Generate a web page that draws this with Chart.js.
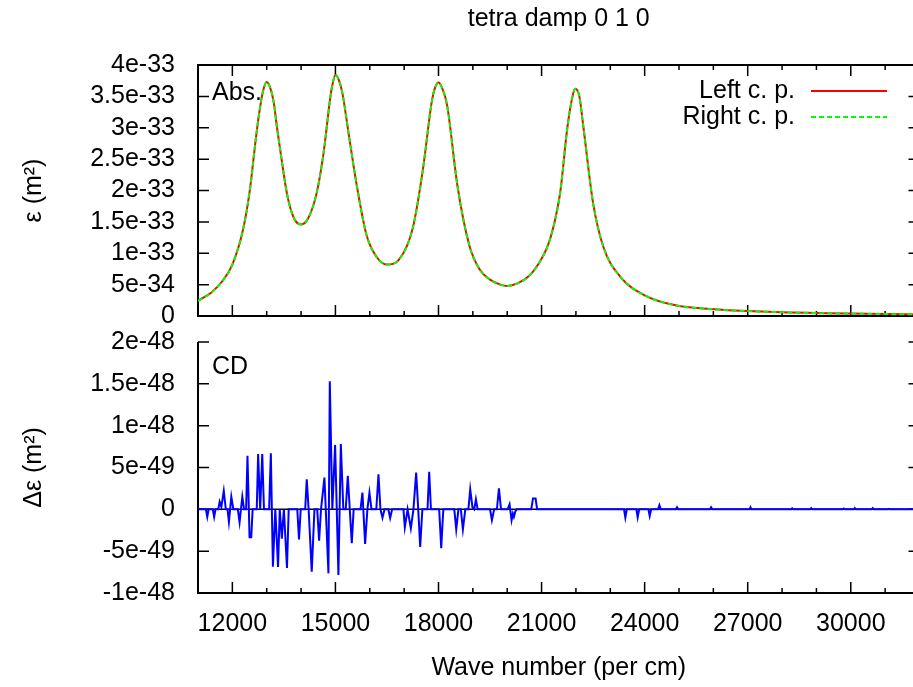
<!DOCTYPE html>
<html>
<head>
<meta charset="utf-8">
<title>tetra damp 0 1 0</title>
<script src="https://cdn.jsdelivr.net/npm/chart.js@4.4.1/dist/chart.umd.min.js"></script>
<style>
  html, body { margin: 0; padding: 0; background: #fff; }
  #page { position: relative; width: 913px; height: 687px; overflow: hidden; background: #fff; }
  #page canvas { position: absolute; left: 0; }
</style>
</head>
<body>
<div id="page">
  <canvas id="absChart" width="925" height="346" style="top:0"></canvas>
  <canvas id="cdChart" width="925" height="375" style="top:312px"></canvas>
</div>
<script>
// x axis: wave number (per cm)
const xMin = 11000, xMax = 32000;
const xTicks = [12000, 15000, 18000, 21000, 24000, 27000, 30000];
const xTickLabels = ['12000', '15000', '18000', '21000', '24000', '27000', '30000'];

// absorption, values in units of 1e-33 m^2
const absWave = [11000, 11400, 11700, 12000, 12300, 12500, 12700, 12800, 12900, 13000, 13100, 13200, 13300,
  13400, 13600, 13800, 14000, 14200, 14450, 14650, 14850, 14900, 15000, 15100, 15200, 15400, 15600,
  15900, 16200, 16500, 16850, 17250, 17550, 17800, 17900, 18000, 18100, 18250, 18550, 18900, 19200,
  19500, 19800, 20000, 20300, 20600, 20900, 21200, 21400, 21550, 21750, 21900, 21980, 22100, 22220, 22500,
  22800, 23300, 24000, 24900, 25900, 27400, 29300, 32000];
const absLeft = [0.24, 0.38, 0.55, 0.82, 1.35, 1.97, 2.9, 3.3, 3.6, 3.73, 3.64, 3.42, 3.0,
  2.62, 1.92, 1.55, 1.46, 1.55, 1.95, 2.58, 3.48, 3.65, 3.84, 3.76, 3.56, 2.85, 2.15,
  1.3, 0.94, 0.82, 0.9, 1.4, 2.35, 3.4, 3.64, 3.72, 3.64, 3.36, 2.08, 1.12, 0.74,
  0.58, 0.5, 0.48, 0.52, 0.62, 0.82, 1.15, 1.55, 2.0, 3.0, 3.5, 3.62, 3.5, 3.0, 1.8,
  1.1, 0.62, 0.33, 0.17, 0.11, 0.07, 0.043, 0.025];
// right c. p. lies on top of left c. p. at this scale
const absRight = [0.24, 0.38, 0.55, 0.82, 1.35, 1.97, 2.9, 3.3, 3.6, 3.73, 3.64, 3.42, 3.0,
  2.62, 1.92, 1.55, 1.46, 1.55, 1.95, 2.58, 3.48, 3.65, 3.84, 3.76, 3.56, 2.85, 2.15,
  1.3, 0.94, 0.82, 0.9, 1.4, 2.35, 3.4, 3.64, 3.72, 3.64, 3.36, 2.08, 1.12, 0.74,
  0.58, 0.5, 0.48, 0.52, 0.62, 0.82, 1.15, 1.55, 2.0, 3.0, 3.5, 3.62, 3.5, 3.0, 1.8,
  1.1, 0.62, 0.33, 0.17, 0.11, 0.07, 0.043, 0.025];
const absTicks = [0, 0.5, 1, 1.5, 2, 2.5, 3, 3.5, 4];
const absTickLabels = ['0', '5e-34', '1e-33', '1.5e-33', '2e-33', '2.5e-33', '3e-33', '3.5e-33', '4e-33'];

// CD, values in units of 1e-49 m^2
const cdWave = [11000, 11230, 11270, 11310, 11430, 11470, 11510, 11590, 11630, 11680, 11750, 11810,
  11860, 11900, 11970, 12030, 12160, 12210, 12250, 12290, 12340, 12400, 12440, 12480, 12500, 12550,
  12590, 12710, 12750, 12810, 12870, 12920, 13070, 13120, 13180, 13250, 13330, 13380, 13440, 13500,
  13590, 13640, 13890, 13940, 13990, 14120, 14165, 14220, 14310, 14390, 14470, 14525, 14580, 14680,
  14797, 14836, 14910, 14991, 15087, 15157, 15230, 15300, 15360, 15476, 15530, 15730, 15786, 15864,
  15930, 15990, 16050, 16190, 16253, 16310, 16370, 16430, 16540, 16593, 16650,
  16980, 17020, 17100, 17195, 17270, 17350, 17410, 17467, 17530, 17680, 17729, 17780, 18020, 18079,
  18140, 18460, 18516, 18580, 18650, 18710, 18780, 18870, 18923, 18990, 19040, 19089, 19140, 19500,
  19555, 19620, 19700, 19759, 19820, 20010, 20068, 20127, 20165, 20195, 20240, 20280, 20700, 20750,
  20826, 20870,
  23400, 23438, 23480, 23760, 23797, 23840, 24110, 24147, 24190, 24390, 24429, 24470, 24910, 24943,
  24980, 25900, 25934, 25970, 27050, 27080, 27110, 28270, 28294, 28320, 28820, 28847, 28880, 29770,
  29797, 29830, 30090, 30117, 30150, 30610, 30641, 30670, 31080, 31108, 31140, 32000];
const cdDelta = [0, 0, -0.9, 0, 0, -0.9, 0, 0, 0.9, 0.3, 2.2, 0,
  0, -1.5, 1.5, 0, 0, -1.55, 0, 1.5, 0, 0, 6.4, 0, -3.35, -3.35,
  0, 0, 6.6, 0, 6.6, 0, 0, 6.7, -6.85, 0, -6.9, 0, -3.5, 0,
  -7.0, 0, 0, -3.6, 0, 0, 3.6, 0, -7.45, 0, 0, -3.75, 0, 3.8,
  -7.65, 15.3, 0, 7.7, -7.85, 7.8, 0, 0, 4.0, -4.05, 0, 0, 2.0, -4.15,
  0, 2.0, 0, 0, 4.2, 0, -1.0, 0, 0, -1.05, 0,
  0, -2.15, 0, -2.27, 0, 4.4, 0, -4.5, 0, 0, 4.5, 0, 0, -4.65,
  0, 0, -2.4, 0, 0, -2.4, 0, 0, 2.4, 0.2, 0, 1.2, 0, 0,
  -1.3, 0, 0, 2.5, 0, 0, 0.6, -1.3, -0.5, -0.9, -0.2, 0, 0, 1.3,
  1.3, 0,
  0, -1.0, 0, 0, -0.95, 0, 0, -0.8, 0, 0, 0.5, 0, 0, 0.25,
  0, 0, 0.25, 0, 0, 0.25, 0, 0, 0.12, 0, 0, 0.15, 0, 0,
  0.1, 0, 0, 0.15, 0, 0, 0.15, 0, 0, 0.06, 0, 0];
const cdTicks = [-10, -5, 0, 5, 10, 15, 20];
const cdTickLabels = ['-1e-48', '-5e-49', '0', '5e-49', '1e-48', '1.5e-48', '2e-48'];

const FONT = "'Liberation Sans', Arial, Helvetica, sans-serif";
Chart.defaults.font.family = FONT;
Chart.defaults.font.size = 25;
Chart.defaults.color = '#000';

function points(xs, ys) {
  return xs.map((x, i) => ({ x: x, y: ys[i] }));
}

// box, inward tick marks and optional zero axis, drawn below the data
const framePlugin = {
  id: 'frame',
  beforeDatasetsDraw(chart, args, opts) {
    const { ctx, chartArea: a, scales: { x, y } } = chart;
    ctx.save();
    ctx.strokeStyle = '#000';
    if (opts.zeroLine) {
      const y0 = y.getPixelForValue(0);
      ctx.lineWidth = 1.5;
      ctx.beginPath();
      ctx.moveTo(a.left, y0);
      ctx.lineTo(a.right, y0);
      ctx.stroke();
    }
    ctx.lineWidth = 2;
    ctx.beginPath();
    if (opts.top) {
      ctx.rect(a.left, a.top, a.right - a.left, a.bottom - a.top);
    } else {
      ctx.moveTo(a.left, a.top);
      ctx.lineTo(a.left, a.bottom);
      ctx.lineTo(a.right, a.bottom);
      ctx.lineTo(a.right, a.top);
    }
    ctx.stroke();
    ctx.lineWidth = 1.5;
    ctx.beginPath();
    for (let v = xMin + 1000; v < xMax; v += 1000) {
      const px = x.getPixelForValue(v);
      const len = xTicks.includes(v) ? 11 : 5;
      ctx.moveTo(px, a.bottom);
      ctx.lineTo(px, a.bottom - len);
      if (opts.top) {
        ctx.moveTo(px, a.top);
        ctx.lineTo(px, a.top + len);
      }
    }
    y.ticks.forEach(t => {
      const py = y.getPixelForValue(t.value);
      ctx.moveTo(a.left, py);
      ctx.lineTo(a.left + 11, py);
      ctx.moveTo(a.right, py);
      ctx.lineTo(a.right - 11, py);
    });
    ctx.stroke();
    ctx.restore();
  }
};

// corner tag and gnuplot style key
const notesPlugin = {
  id: 'notes',
  afterDraw(chart, args, opts) {
    const { ctx, chartArea: a } = chart;
    ctx.save();
    ctx.font = '25px ' + FONT;
    ctx.fillStyle = '#000';
    ctx.textBaseline = 'middle';
    if (opts.tag) {
      ctx.textAlign = 'left';
      ctx.fillText(opts.tag, a.left + 14, a.top + opts.tagY);
    }
    if (opts.key) {
      chart.data.datasets.forEach((ds, i) => {
        const yy = a.top + 26 + i * 26;
        ctx.textAlign = 'right';
        ctx.fillStyle = '#000';
        ctx.fillText(ds.label, 795, yy);
        ctx.strokeStyle = ds.borderColor;
        ctx.lineWidth = 2;
        ctx.setLineDash(ds.borderDash || []);
        ctx.beginPath();
        ctx.moveTo(811, yy);
        ctx.lineTo(887, yy);
        ctx.stroke();
      });
    }
    ctx.restore();
  }
};

new Chart(document.getElementById('absChart'), {
  type: 'line',
  data: {
    datasets: [
      { label: 'Left c. p.', data: points(absWave, absLeft), borderColor: '#ff0000', borderWidth: 2,
        pointRadius: 0, cubicInterpolationMode: 'monotone', order: 1 },
      { label: 'Right c. p.', data: points(absWave, absRight), borderColor: '#00ff00', borderWidth: 2,
        borderDash: [5, 3], pointRadius: 0, cubicInterpolationMode: 'monotone', order: 0 }
    ]
  },
  options: {
    responsive: false,
    animation: false,
    devicePixelRatio: 1,
    layout: { padding: { left: 0, right: 5.5, top: 0, bottom: 0 } },
    plugins: {
      legend: { display: false },
      tooltip: { enabled: false },
      title: { display: true, text: 'tetra damp 0 1 0', fullSize: false, color: '#000',
        font: { size: 25, weight: 'normal' }, padding: { top: 4, bottom: 31 } },
      frame: { top: true },
      notes: { tag: 'Abs.', tagY: 28, key: true }
    },
    scales: {
      x: {
        type: 'linear', min: xMin, max: xMax,
        grid: { display: false }, border: { display: false },
        ticks: { display: false },
        afterBuildTicks: s => { s.ticks = xTicks.map(v => ({ value: v })); },
        afterFit: s => { s.height = 30; }
      },
      y: {
        min: 0, max: 4,
        grid: { display: false }, border: { display: false },
        ticks: { padding: 15, autoSkip: false, callback: (v, i) => absTickLabels[i] },
        afterBuildTicks: s => { s.ticks = absTicks.map(v => ({ value: v })); },
        afterFit: s => { s.width = 198; },
        title: { display: true, text: 'ε (m²)', padding: { top: 19, bottom: 0 } }
      }
    }
  },
  plugins: [framePlugin, notesPlugin]
});

new Chart(document.getElementById('cdChart'), {
  type: 'line',
  data: {
    datasets: [
      { label: 'CD', data: points(cdWave, cdDelta), borderColor: '#0000ff', borderWidth: 2,
        pointRadius: 0, tension: 0 }
    ]
  },
  options: {
    responsive: false,
    animation: false,
    devicePixelRatio: 1,
    layout: { padding: { left: 0, right: 5.5, top: 0, bottom: 0 } },
    plugins: {
      legend: { display: false },
      tooltip: { enabled: false },
      frame: { top: false, zeroLine: true },
      notes: { tag: 'CD', tagY: 25, key: false }
    },
    scales: {
      x: {
        type: 'linear', min: xMin, max: xMax,
        grid: { display: false }, border: { display: false },
        ticks: { padding: 8, autoSkip: false, maxRotation: 0, callback: (v, i) => xTickLabels[i] },
        afterBuildTicks: s => { s.ticks = xTicks.map(v => ({ value: v })); },
        afterFit: s => { s.height = 94; },
        title: { display: true, text: 'Wave number (per cm)', padding: { top: 0, bottom: 4 } }
      },
      y: {
        min: -10, max: 20,
        grid: { display: false }, border: { display: false },
        ticks: { padding: 15, autoSkip: false, callback: (v, i) => cdTickLabels[i] },
        afterBuildTicks: s => { s.ticks = cdTicks.map(v => ({ value: v })); },
        afterFit: s => { s.width = 198; },
        title: { display: true, text: 'Δε (m²)', padding: { top: 19, bottom: 0 } }
      }
    }
  },
  plugins: [framePlugin, notesPlugin]
});
</script>
</body>
</html>
